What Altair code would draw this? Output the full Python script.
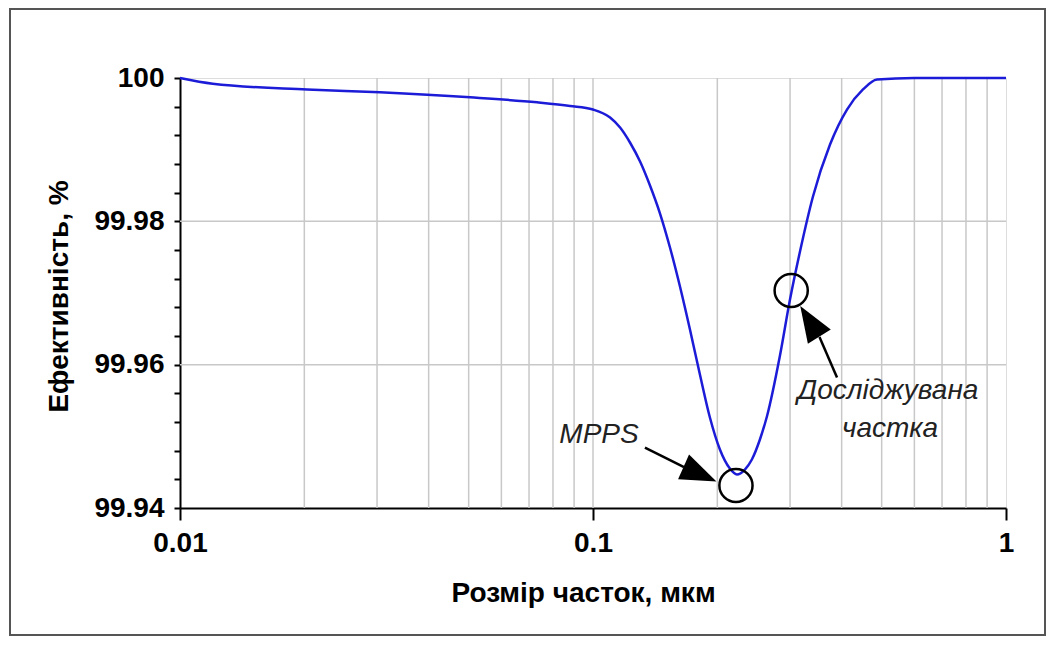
import altair as alt
import pandas as pd

# ---- curve data ----
sizes = [0.01, 0.012, 0.0203, 0.0305, 0.0504, 0.0732, 0.088, 0.1,
         0.1100, 0.1163, 0.1229, 0.1300, 0.1374, 0.1453, 0.1536, 0.1624,
         0.1717, 0.1815, 0.1919, 0.2029, 0.2145, 0.2231, 0.2332, 0.2425,
         0.2536, 0.2637, 0.2836, 0.2999, 0.3171, 0.3409, 0.3749, 0.4121,
         0.4505, 0.4872, 0.6, 0.8, 1.0]
eff = [100.0, 99.9992, 99.9984, 99.9980, 99.9973, 99.9966, 99.9961, 99.9956,
       99.99449, 99.99309, 99.99100, 99.98835, 99.98500, 99.98109, 99.97635, 99.97091,
       99.96491, 99.95863, 99.95263, 99.94817, 99.94551, 99.94468, 99.94537, 99.94677,
       99.94956, 99.95277, 99.96128, 99.96909, 99.97579, 99.98347, 99.99072, 99.99560,
       99.99840, 99.99979, 100.0, 100.0, 100.0]

# ---- axes / grid ----
x_ticks = [0.01, 0.1, 1]
x_grid = [0.02, 0.03, 0.04, 0.05, 0.06, 0.07, 0.08, 0.09, 0.1,
          0.2, 0.3, 0.4, 0.5, 0.6, 0.7, 0.8, 0.9]
y_ticks = [99.94, 99.944, 99.948, 99.952, 99.956, 99.96, 99.964, 99.968, 99.972,
           99.976, 99.98, 99.984, 99.988, 99.992, 99.996, 100.0]
y_grid = [99.96, 99.98]

# ---- annotations ----
circle_x = [0.2219, 0.3019]
circle_y = [99.94314, 99.97035]
arrow_x = [0.1336, 0.3898]
arrow_y = [99.94844, 99.95821]
arrow_x2 = [0.1661, 0.3535]
arrow_y2 = [99.94572, 99.96386]
head_x = [0.1816, 0.3349]
head_y = [99.94472, 99.96605]
head_angle = [114, 328]
label_text = ["MPPS", "Досліджувана", "частка"]
label_x = [0.1034, 0.5178, 0.5237]
label_y = [99.95012, 99.95626, 99.95096]

FONT = "Liberation Sans"

xscale = alt.Scale(type="log", domain=[0.01, 1], nice=False)
yscale = alt.Scale(domain=[99.94, 100], nice=False, zero=False)

xaxis = alt.Axis(values=x_ticks, format="~g", grid=False, tickSize=12, tickWidth=2,
                 tickColor="black", domainColor="black", domainWidth=2,
                 labelFont=FONT, labelFontSize=28, labelFontWeight="bold", labelColor="black",
                 labelPadding=9, labelFlush=False, labelOverlap=False,
                 title="Розмір часток, мкм", titleFont=FONT, titleFontSize=28,
                 titleFontWeight="bold", titleColor="black",
                 titleX=403, titleY=85, titleBaseline="middle")
yaxis = alt.Axis(values=y_ticks,
                 labelExpr="abs(datum.value - 100) < 1e-6 ? '100' : "
                           "(abs(round(datum.value*50) - datum.value*50) < 1e-4 ? format(datum.value, '.2f') : '')",
                 grid=False, tickSize=6, tickWidth=2, tickColor="black",
                 domainColor="black", domainWidth=2,
                 labelFont=FONT, labelFontSize=28, labelFontWeight="bold", labelColor="black",
                 labelPadding=10, labelFlush=False, labelOverlap=False, labelBaseline="middle",
                 title="Ефективність, %", titleFont=FONT, titleFontSize=28,
                 titleFontWeight="bold", titleColor="black",
                 titleX=-121, titleY=218, titleAngle=270, titleAlign="center",
                 titleBaseline="middle")

X = lambda f="x": alt.X(f"{f}:Q", scale=xscale, axis=xaxis)
Y = lambda f="y": alt.Y(f"{f}:Q", scale=yscale, axis=yaxis)

curve_df = pd.DataFrame({"x": sizes, "y": eff})
xgrid_df = pd.DataFrame({"x": x_grid})
ygrid_df = pd.DataFrame({"y": y_grid})
circ_df = pd.DataFrame({"x": circle_x, "y": circle_y})
arrow_df = pd.DataFrame({"x": arrow_x, "y": arrow_y, "x2": arrow_x2, "y2": arrow_y2})
head_df = pd.DataFrame({"x": head_x, "y": head_y, "a": head_angle})
text_df = pd.DataFrame({"x": label_x, "y": label_y, "t": label_text})

frame = alt.Chart(pd.DataFrame({"k": [0]})).mark_rect(
    filled=False, stroke="#555555", strokeWidth=2
).encode(x=alt.value(-170), x2=alt.value(865), y=alt.value(-69), y2=alt.value(557))

xgrid = alt.Chart(xgrid_df).mark_rule(color="#c8c8c8", strokeWidth=1.5).encode(x=X())
ygrid = alt.Chart(ygrid_df).mark_rule(color="#c8c8c8", strokeWidth=1.5).encode(y=Y())

line = alt.Chart(curve_df).mark_line(color="#1c1cd8", strokeWidth=2.5,
                                     interpolate="monotone").encode(x=X(), y=Y())

circles = alt.Chart(circ_df).mark_point(shape="circle", size=1100, filled=False,
                                        stroke="black", strokeWidth=2.5,
                                        opacity=1).encode(x=X(), y=Y())

arrows = alt.Chart(arrow_df).mark_rule(color="black", strokeWidth=2.5).encode(
    x=X(), y=Y(), x2="x2:Q", y2="y2:Q")

heads = alt.Chart(head_df).mark_point(
    shape="M0,-1 L0.75,1 L-0.75,1 Z", size=1296, filled=True, color="black", opacity=1
).encode(x=X(), y=Y(), angle=alt.Angle("a:Q", scale=None))

texts = alt.Chart(text_df).mark_text(font=FONT, fontSize=28, fontStyle="italic",
                                     color="#222222", align="center",
                                     baseline="middle").encode(x=X(), y=Y(), text="t:N")

chart = alt.layer(frame, xgrid, ygrid, line, circles, arrows, heads, texts).properties(
    width=826, height=430,
    autosize=alt.AutoSizeParams(type="none"),
    padding={"left": 172, "top": 70, "right": 40, "bottom": 130},
).configure_view(stroke="black", strokeWidth=2).configure(background="white")

chart.save("out.html", embed_options={"renderer": "svg", "actions": False})
